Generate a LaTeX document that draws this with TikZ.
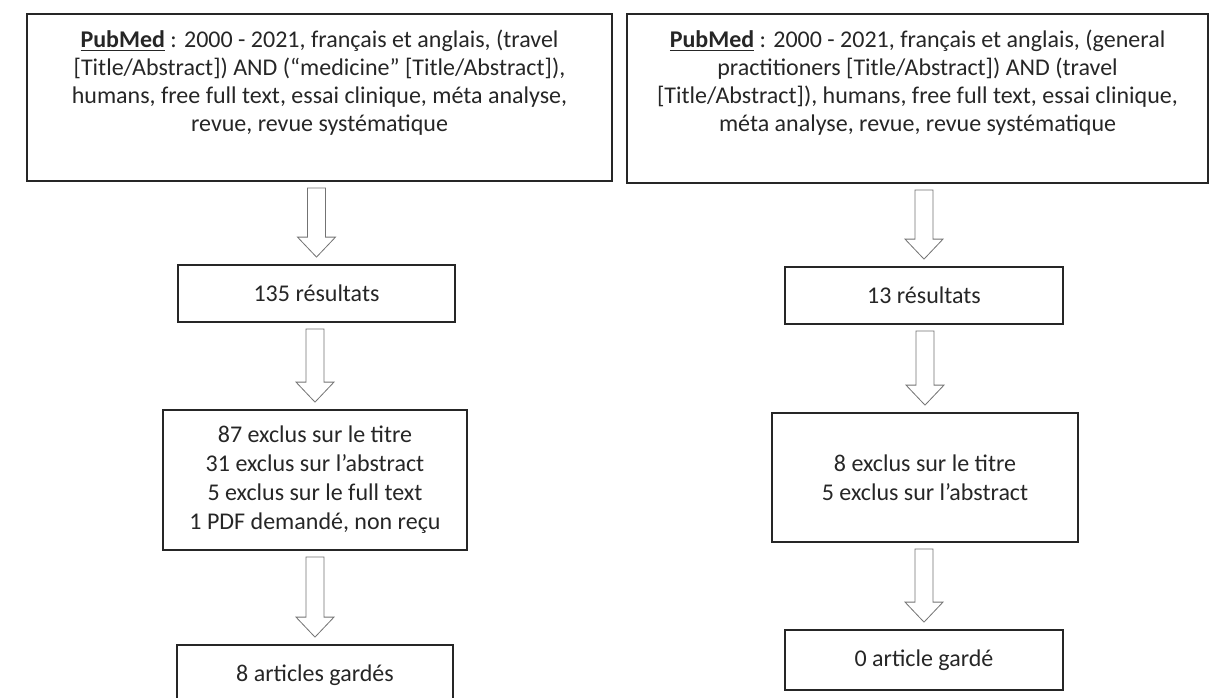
\documentclass[tikz,border=0pt]{standalone}
\usepackage{fontspec}
\setmainfont{Carlito}
\usepackage{tikz}
\usetikzlibrary{calc,positioning}

% hollow block arrow between two boxes
\newcommand{\flowarrow}[2]{%
  \draw[hollow] let \p1 = (#1.south), \p2 = (#2.north) in
    (\x2-4.5pt,\y1-3pt) -- (\x2+4.5pt,\y1-3pt) -- (\x2+4.5pt,\y2+13.5pt)
    -- (\x2+9.5pt,\y2+13.5pt) -- (\x2,\y2+3.5pt) -- (\x2-9.5pt,\y2+13.5pt)
    -- (\x2-4.5pt,\y2+13.5pt) -- cycle;}

\begin{document}
\begin{tikzpicture}[x = 0.5pt, y = -0.5pt]
	\tikzstyle{box} = [rectangle, draw = black!85, line width = 0.9pt, align = center, font = \fontsize{12}{14.5}\selectfont, text = black!85]
	\tikzstyle{query} = [draw = none, align = center, inner sep = 0pt, font = \fontsize{12}{14}\selectfont, text = black!85]
	\tikzstyle{hollow} = [draw = black!55, line width = 0.4pt, fill = white]
\useasboundingbox (0,0) rectangle (1216,697);
\clip (0,0) rectangle (1216,697);

% left column
\node[box, minimum width = 292.5pt, minimum height = 83.5pt] (q1) at (319.5, 97.5) {};
\node[query, below = 8pt of q1.north] (t1) {\underline{\textbf{PubMed}} : 2000 - 2021, français et anglais, (travel\\
  {[}Title/Abstract]) AND (“medicine” [Title/Abstract]),\\
  humans, free full text, essai clinique, méta analyse,\\
  revue, revue systématique};
\node[box, minimum width = 138.5pt, minimum height = 28.5pt] (r1) at (316.5, 293.5) {135 résultats};
\node[box, minimum width = 152pt, minimum height = 70pt] (e1) at (315, 480) {87 exclus sur le titre\\
  31 exclus sur l'abstract\\
  5 exclus sur le full text\\
  1 PDF demandé, non reçu};
\node[box, minimum width = 138pt, minimum height = 30pt] (g1) at (315, 675) {8 articles gardés};

% right column
\node[box, minimum width = 290.5pt, minimum height = 84.5pt] (q2) at (917.5, 98.5) {};
\node[query, below = 8pt of q2.north] (t2) {\underline{\textbf{PubMed}} : 2000 - 2021, français et anglais, (general\\
  practitioners [Title/Abstract]) AND (travel\\
  {[}Title/Abstract]), humans, free full text, essai clinique,\\
  méta analyse, revue, revue systématique};
\node[box, minimum width = 139pt, minimum height = 28.5pt] (r2) at (924, 295.5) {13 résultats};
\node[box, minimum width = 153pt, minimum height = 64.5pt] (e2) at (925, 477.5) {8 exclus sur le titre\\
  5 exclus sur l'abstract};
\node[box, minimum width = 139pt, minimum height = 30pt] (g2) at (924, 660) {0 article gardé};

	\flowarrow{q1}{r1}
	\flowarrow{r1}{e1}
	\flowarrow{e1}{g1}
	\flowarrow{q2}{r2}
	\flowarrow{r2}{e2}
	\flowarrow{e2}{g2}
\end{tikzpicture}
\end{document}
